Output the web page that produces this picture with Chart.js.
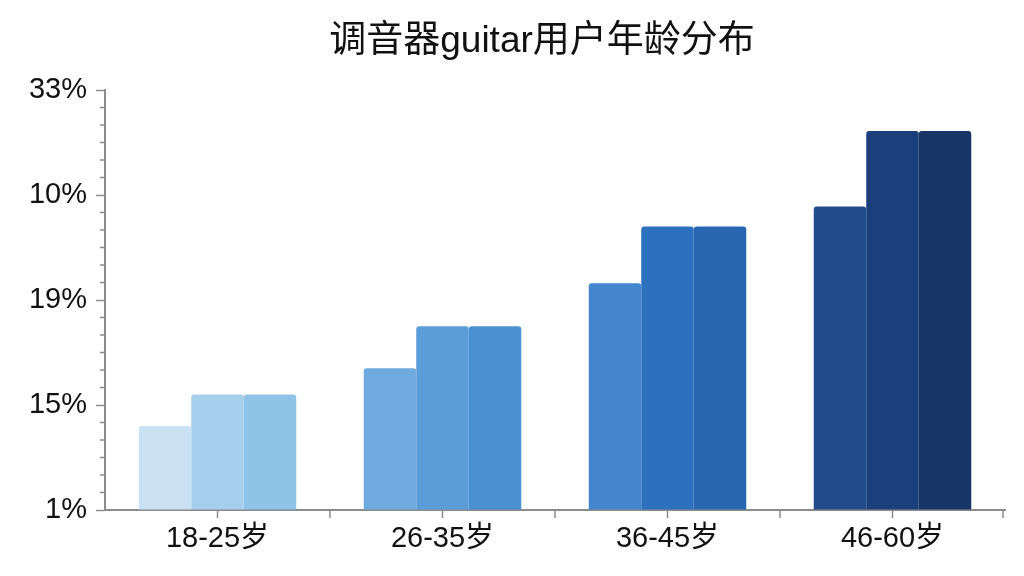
<!DOCTYPE html>
<html>
<head>
<meta charset="utf-8">
<script src="https://cdn.jsdelivr.net/npm/chart.js@4/dist/chart.umd.min.js"></script>
<style>
  html, body { margin: 0; padding: 0; background: #ffffff; }
  #wrap { width: 1024px; height: 576px; }
</style>
</head>
<body>
<div id="wrap"><canvas id="age-bar-chart"></canvas></div>
<script>
// Age distribution chart

var categories = ["18-25岁", "26-35岁", "36-45岁", "46-60岁"];
// tick labels as printed on the y axis, bottom to top
var yTickLabels = ["1%", "15%", "19%", "10%", "33%"];

// three bars per age group (in axis units)
var seriesA = [0.80, 1.35, 2.16, 2.89];
var seriesB = [1.10, 1.75, 2.70, 3.61];
var seriesC = [1.10, 1.75, 2.70, 3.61];

var coloursA = ['#c9e1f3', '#6fabdf', '#4386cd', '#214b8b'];
var coloursB = ['#a5cfed', '#5a9dd9', '#2d70bd', '#1b3f7a'];
var coloursC = ['#8fc3e8', '#4b91d2', '#2966b2', '#173566'];

var axisGrey = '#8c8c8c';
var fontFamily = '"Liberation Sans", Arial, "Noto Sans CJK SC", sans-serif';

// extra tick marks: minor ticks on y, boundary ticks on x
var extraTicks = {
  id: 'extraTicks',
  afterDraw: function(chart) {
    var c = chart.ctx, y = chart.scales.y, x = chart.scales.x;
    var area = chart.chartArea;
    c.save();
    c.strokeStyle = axisGrey;
    c.lineWidth = 1.5;
    for (var i = 0; i < yTickLabels.length - 1; i++) {
      for (var k = 1; k < 6; k++) {
        var py = y.getPixelForValue(i + k / 6);
        c.beginPath();
        c.moveTo(area.left - 5, py);
        c.lineTo(area.left, py);
        c.stroke();
      }
    }
    for (var j = 0; j < categories.length; j++) {
      var px = j < categories.length - 1
        ? (x.getPixelForValue(j) + x.getPixelForValue(j + 1)) / 2
        : area.right - 2;
      c.beginPath();
      c.moveTo(px, area.bottom);
      c.lineTo(px, area.bottom + 8);
      c.stroke();
    }
    c.restore();
  }
};

var ctx = document.getElementById('age-bar-chart').getContext('2d');
var chart = new Chart(ctx, {
  type: 'bar',
  data: {
    labels: categories,
    datasets: [
      { label: 'A', data: seriesA, backgroundColor: coloursA },
      { label: 'B', data: seriesB, backgroundColor: coloursB },
      { label: 'C', data: seriesC, backgroundColor: coloursC }
    ]
  },
  options: {
    responsive: true,
    maintainAspectRatio: false,
    animation: false,
    // negative right padding so the title sits where it does in the picture;
    // the spacer axis on the right pulls the plot back in
    layout: { padding: { left: 0, right: -60, top: 0, bottom: 0 } },
    datasets: {
      bar: {
        categoryPercentage: 0.7,
        barPercentage: 1.0,
        borderRadius: { topLeft: 3, topRight: 3 },
        borderSkipped: 'bottom'
      }
    },
    plugins: {
      legend: { display: false },
      tooltip: { enabled: false },
      title: {
        display: true,
        text: '调音器guitar用户年龄分布',
        color: '#111111',
        font: { family: fontFamily, size: 37, weight: 'normal' },
        padding: { top: 20, bottom: 25.6 }
      }
    },
    scales: {
      x: {
        grid: { offset: false, drawOnChartArea: false, tickLength: 8, color: axisGrey, tickWidth: 1.5 },
        border: { color: axisGrey, width: 2 },
        ticks: { color: '#111111', padding: 4, font: { family: fontFamily, size: 29 } },
        afterFit: function(s) { s.height = 66; s.paddingLeft = 0; s.paddingRight = 0; }
      },
      y: {
        min: 0,
        max: 4,
        grid: { drawOnChartArea: false, tickLength: 9, color: axisGrey, tickWidth: 1.5 },
        border: { color: axisGrey, width: 2 },
        ticks: {
          stepSize: 1,
          color: '#111111',
          padding: 9,
          font: { family: fontFamily, size: 29 },
          callback: function(value) { return yTickLabels[value]; }
        },
        afterFit: function(s) { s.width = 105; s.paddingTop = 0; s.paddingBottom = 0; }
      },
      spacer: {
        type: 'linear',
        position: 'right',
        grid: { display: false },
        border: { display: false },
        ticks: { display: false },
        afterFit: function(s) { s.width = 79; s.paddingTop = 0; s.paddingBottom = 0; }
      }
    }
  },
  plugins: [extraTicks]
});
</script>
</body>
</html>
